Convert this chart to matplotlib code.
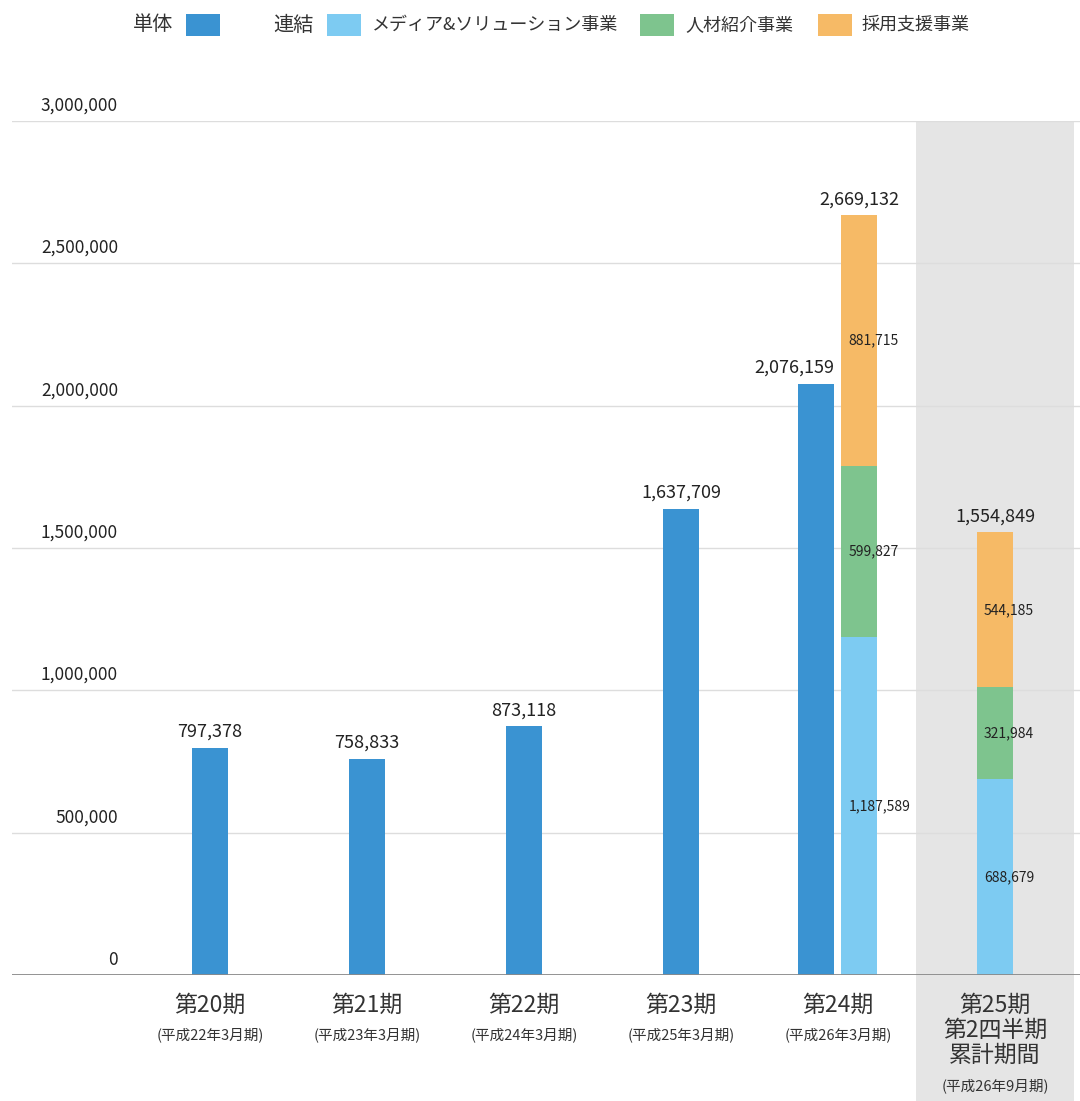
import matplotlib
matplotlib.use('Agg')
import matplotlib.pyplot as plt
from matplotlib.patches import Rectangle
import matplotlib.transforms as mtransforms

plt.rcParams['font.family'] = ['Noto Sans CJK JP', 'DejaVu Sans']

# data
periods = ['第20期', '第21期', '第22期', '第23期', '第24期', '第25期\n第2四半期\n累計期間']
sub_labels = ['(平成22年3月期)', '(平成23年3月期)', '(平成24年3月期)', '(平成25年3月期)',
              '(平成26年3月期)', '(平成26年9月期)']
single = [797378, 758833, 873118, 1637709, 2076159]
media = [1187589, 688679]
jinzai = [599827, 321984]
saiyo = [881715, 544185]
consol_total = [2669132, 1554849]
yticks = [0, 500000, 1000000, 1500000, 2000000, 2500000, 3000000]

c_single = '#3a93d2'
c_media = '#7dcbf2'
c_jinzai = '#7ec48e'
c_saiyo = '#f6ba66'
txt = '#222222'

fig = plt.figure(figsize=(10.8, 11.01), dpi=100)
ax = fig.add_axes([12 / 1080, 126 / 1101, 1068 / 1080, 854 / 1101])
ax.set_xlim(-1.261, 5.541)
ax.set_ylim(0, 3000000)
ax.axis('off')

# grey band for the latest (partial) period
trans = mtransforms.blended_transform_factory(ax.transData, ax.transAxes)
ax.add_patch(Rectangle((4.497, -0.1475), 1.006, 1.1475, transform=trans,
                       facecolor='#e5e5e5', edgecolor='none', zorder=0, clip_on=False))

# grid and y labels
for t in yticks:
    if t == 0:
        ax.axhline(0, color='#8a8a8a', lw=1.3, zorder=3)
    else:
        ax.axhline(t, color='#dddddd', lw=1.0, zorder=1)
    ax.annotate(f'{t:,}', (-0.586, t), xytext=(0, 11), textcoords='offset points',
                ha='right', va='center', fontsize=12.5, color=txt)

w = 0.229
xs_single = [0, 1, 2, 3, 3.862]
xs_consol = [4.136, 5]

ax.bar(xs_single, single, width=w, color=c_single, zorder=2)
ax.bar(xs_consol, media, width=w, color=c_media, zorder=2)
b2 = [m for m in media]
ax.bar(xs_consol, jinzai, width=w, bottom=b2, color=c_jinzai, zorder=2)
b3 = [m + j for m, j in zip(media, jinzai)]
ax.bar(xs_consol, saiyo, width=w, bottom=b3, color=c_saiyo, zorder=2)

# value labels
for i, (x, v) in enumerate(zip(xs_single, single)):
    if i == 4:
        ax.annotate(f'{v:,}', (x + w / 2, v), xytext=(0, 5), textcoords='offset points',
                    ha='right', va='bottom', fontsize=13, color=txt)
    else:
        ax.annotate(f'{v:,}', (x, v), xytext=(0, 5), textcoords='offset points',
                    ha='center', va='bottom', fontsize=13, color=txt)
for x, v in zip(xs_consol, consol_total):
    ax.annotate(f'{v:,}', (x, v), xytext=(0, 5), textcoords='offset points',
                ha='center', va='bottom', fontsize=13, color=txt)

for k, x in enumerate(xs_consol):
    segs = [media[k], jinzai[k], saiyo[k]]
    base = 0
    for s in segs:
        ax.annotate(f'{s:,}', (x - w / 2, base + s / 2), xytext=(5, 0),
                    textcoords='offset points', ha='left', va='center',
                    fontsize=10, color=txt)
        base += s

# category labels
cat_x = [0, 1, 2, 3, 4, 5]
for x, p, s in zip(cat_x, periods, sub_labels):
    lines = p.split('\n')
    for j, line in enumerate(lines):
        ax.annotate(line, (x, 0), xytext=(0, -21.5 - j * 18), textcoords='offset points',
                    ha='center', va='center', fontsize=16.5, color='#333333',
                    annotation_clip=False)
    ax.annotate(s, (x, 0), xytext=(0, -43 - (len(lines) - 1) * 18.5), textcoords='offset points',
                ha='center', va='center', fontsize=10.5, color='#333333',
                annotation_clip=False)

# legend at top
ly = 1 - 25 / 1101
def legend_box(px, color):
    fig.patches.append(Rectangle((px / 1080, ly - 11 / 1101), 34 / 1080, 22 / 1101,
                                 transform=fig.transFigure, facecolor=color,
                                 edgecolor='none'))

fig.text(133 / 1080, ly, '単体', ha='left', va='center', fontsize=14.5, color='#333333')
legend_box(186, c_single)
fig.text(273 / 1080, ly, '連結', ha='left', va='center', fontsize=14.5, color='#333333')
legend_box(327, c_media)
fig.text(372 / 1080, ly, 'メディア&ソリューション事業', ha='left', va='center', fontsize=13,
         color='#333333')
legend_box(640, c_jinzai)
fig.text(685 / 1080, ly, '人材紹介事業', ha='left', va='center', fontsize=13, color='#333333')
legend_box(818, c_saiyo)
fig.text(862 / 1080, ly, '採用支援事業', ha='left', va='center', fontsize=13, color='#333333')

fig.savefig('out.png', dpi=100)
